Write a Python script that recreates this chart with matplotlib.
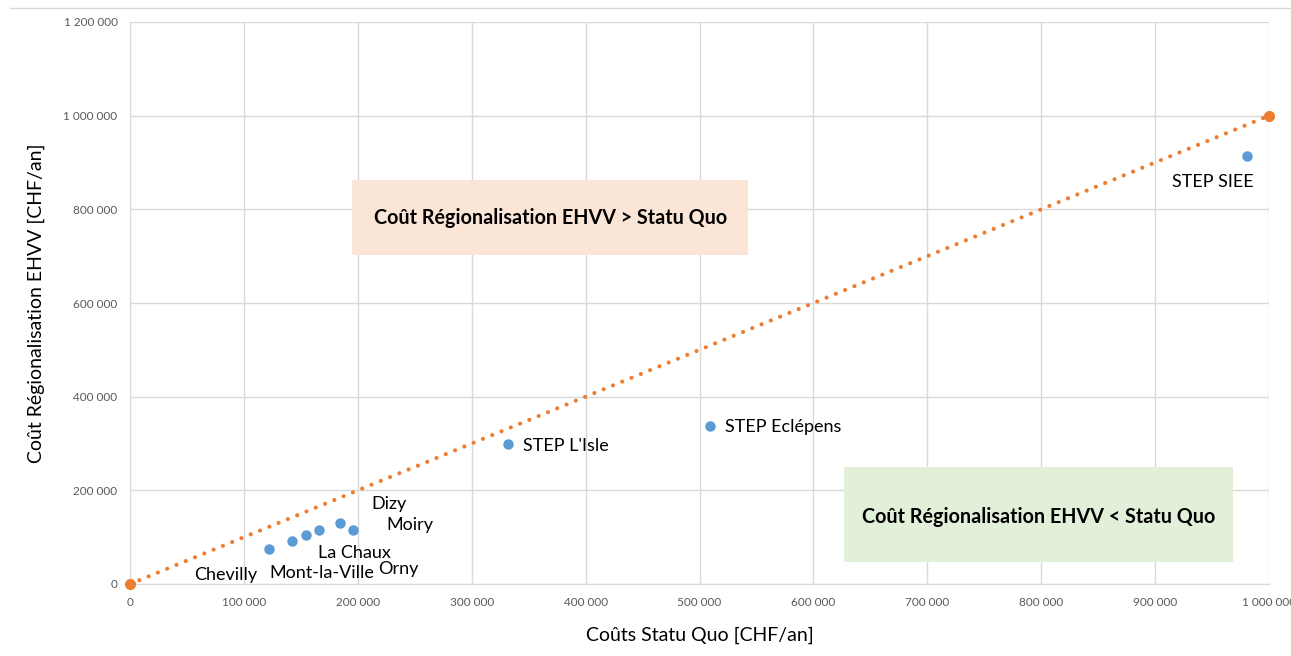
import matplotlib
matplotlib.use("Agg")
import matplotlib.pyplot as plt
from matplotlib.lines import Line2D
from matplotlib.patches import Rectangle
from matplotlib.ticker import FuncFormatter, MultipleLocator

# Data
names = ["Chevilly", "Mont-la-Ville", "La Chaux", "Orny", "Dizy", "Moiry",
         "STEP L'Isle", "STEP Eclépens", "STEP SIEE"]
statu_quo = [122000, 142000, 154500, 166000, 184500, 196000, 332000, 509000, 981000]
regional = [75000, 92000, 104500, 115000, 130000, 115000, 299000, 337500, 914000]
label_x = [56000, 122000, 165000, 218000, 212000, 225000, 345000, 522000, 915000]
label_y = [20000, 23000, 66000, 32000, 170000, 126000, 294000, 335500, 858000]
ref_x = [0, 1000000]
ref_y = [0, 1000000]

plt.rcParams['font.family'] = ['Lato', 'DejaVu Sans']

fig = plt.figure(figsize=(12.91, 6.56), dpi=100)
ax = fig.add_axes([130/1291, 1-584/656, (1269-130)/1291, (584-22)/656])

grid_c = "#D9D9D9"
ax.set_xlim(0, 1000000)
ax.set_ylim(0, 1200000)
ax.xaxis.set_major_locator(MultipleLocator(100000))
ax.yaxis.set_major_locator(MultipleLocator(200000))
fmt = FuncFormatter(lambda v, p: f"{int(v):,}".replace(",", " "))
ax.xaxis.set_major_formatter(fmt)
ax.yaxis.set_major_formatter(fmt)
ax.grid(True, color=grid_c, linewidth=1)
ax.set_axisbelow(True)
for s in ["top", "right"]:
    ax.spines[s].set_visible(False)
for s in ["left", "bottom"]:
    ax.spines[s].set_color(grid_c)
ax.tick_params(length=0, labelsize=8.5, labelcolor="#595959", pad=9)

# reference line
ax.plot(ref_x, ref_y, linestyle=(0, (0.01, 2.4)), color="#ED7D31", linewidth=3.0,
        dash_capstyle="round", zorder=3, clip_on=False)
ax.plot(ref_x, ref_y, "o", color="#ED7D31", markersize=7, zorder=4, clip_on=False)

# points
ax.plot(statu_quo, regional, "o", color="#5B9BD5", markersize=6.5, zorder=5, linestyle="none")
for n, lx, ly in zip(names, label_x, label_y):
    ax.text(lx, ly, n, fontsize=13, color="#000000", va="center", ha="left", zorder=6)

# region boxes
ax.add_patch(Rectangle((195000, 702500), 348000, 160000, facecolor="#FBE5D6",
                       edgecolor="none", zorder=5))
ax.text(369000, 782500, "Coût Régionalisation EHVV > Statu Quo", fontsize=14.2,
        fontweight="bold", ha="center", va="center", color="#000000", zorder=6)
ax.add_patch(Rectangle((627000, 47000), 341500, 203000, facecolor="#E2F0D9",
                       edgecolor="none", zorder=5))
ax.text(797500, 143000, "Coût Régionalisation EHVV < Statu Quo", fontsize=14.2,
        fontweight="bold", ha="center", va="center", color="#000000", zorder=6)

ax.set_xlabel("Coûts Statu Quo [CHF/an]", fontsize=14, color="#000000", labelpad=14)
ax.set_ylabel("Coût Régionalisation EHVV [CHF/an]", fontsize=14, color="#000000", labelpad=13)

fig.add_artist(Line2D([10/1291, 1], [1-8/656, 1-8/656], color="#D9D9D9", linewidth=1))

fig.savefig("out.png", dpi=100)
